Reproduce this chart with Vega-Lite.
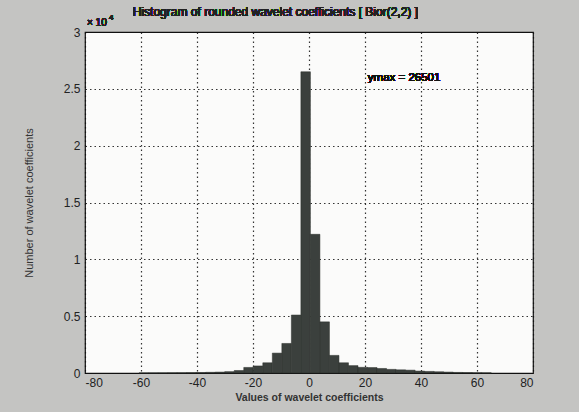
{
  "$schema": "https://vega.github.io/schema/vega-lite/v6.json",
  "width": 448,
  "height": 341,
  "autosize": "none",
  "padding": {"left": 85, "top": 32, "right": 46, "bottom": 39},
  "background": "#c4c4c2",
  "config": {
    "font": "Liberation Sans",
    "view": {"stroke": "#111111", "strokeWidth": 1.2, "fill": "#fbfbfa"}
  },
  "data": {
    "values": [
      {"bin_start": -60.7, "bin_end": -57.3, "count": 10},
      {"bin_start": -57.3, "bin_end": -53.9, "count": 12},
      {"bin_start": -53.9, "bin_end": -50.5, "count": 15},
      {"bin_start": -50.5, "bin_end": -47.1, "count": 20},
      {"bin_start": -47.1, "bin_end": -43.7, "count": 25},
      {"bin_start": -43.7, "bin_end": -40.3, "count": 35},
      {"bin_start": -40.3, "bin_end": -36.9, "count": 45},
      {"bin_start": -36.9, "bin_end": -33.5, "count": 60},
      {"bin_start": -33.5, "bin_end": -30.1, "count": 80},
      {"bin_start": -30.1, "bin_end": -26.7, "count": 120},
      {"bin_start": -26.7, "bin_end": -23.3, "count": 220},
      {"bin_start": -23.3, "bin_end": -19.9, "count": 490},
      {"bin_start": -19.9, "bin_end": -16.5, "count": 620},
      {"bin_start": -16.5, "bin_end": -13.1, "count": 900},
      {"bin_start": -13.1, "bin_end": -9.7, "count": 1750},
      {"bin_start": -9.7, "bin_end": -6.3, "count": 2600},
      {"bin_start": -6.3, "bin_end": -2.9, "count": 5100},
      {"bin_start": -2.9, "bin_end": 0.5, "count": 26501},
      {"bin_start": 0.5, "bin_end": 3.9, "count": 12200},
      {"bin_start": 3.9, "bin_end": 7.3, "count": 4500},
      {"bin_start": 7.3, "bin_end": 10.7, "count": 1550},
      {"bin_start": 10.7, "bin_end": 14.1, "count": 900},
      {"bin_start": 14.1, "bin_end": 17.5, "count": 650},
      {"bin_start": 17.5, "bin_end": 20.9, "count": 500},
      {"bin_start": 20.9, "bin_end": 24.3, "count": 480},
      {"bin_start": 24.3, "bin_end": 27.7, "count": 400},
      {"bin_start": 27.7, "bin_end": 31.1, "count": 320},
      {"bin_start": 31.1, "bin_end": 34.5, "count": 280},
      {"bin_start": 34.5, "bin_end": 37.9, "count": 250},
      {"bin_start": 37.9, "bin_end": 41.3, "count": 170},
      {"bin_start": 41.3, "bin_end": 44.7, "count": 140},
      {"bin_start": 44.7, "bin_end": 48.1, "count": 110},
      {"bin_start": 48.1, "bin_end": 51.5, "count": 80},
      {"bin_start": 51.5, "bin_end": 54.9, "count": 50},
      {"bin_start": 54.9, "bin_end": 58.3, "count": 40},
      {"bin_start": 58.3, "bin_end": 61.7, "count": 25},
      {"bin_start": 61.7, "bin_end": 65.1, "count": 15}
    ]
  },
  "layer": [
    {
      "mark": {"type": "rect", "fill": "#3b403d", "stroke": "#2a2e2b", "strokeWidth": 0.5},
      "encoding": {
        "x": {
          "field": "bin_start",
          "type": "quantitative",
          "scale": {"domain": [-80, 80], "nice": false, "zero": false},
          "axis": {
            "values": [-80, -60, -40, -20, 0, 20, 40, 60, 80],
            "labelExpr": "'' + datum.value",
            "title": "Values of wavelet coefficients",
            "titleFontSize": 10.5,
            "titleFontWeight": "bold",
            "titleColor": "#333333",
            "titlePadding": 4,
            "labelFontSize": 12,
            "labelColor": "#222222",
            "labelPadding": 4,
            "grid": true,
            "gridColor": "#111111",
            "gridDash": [1.5, 3],
            "gridOpacity": 0.85,
            "gridWidth": 1.2,
            "domain": false,
            "ticks": false
          }
        },
        "x2": {"field": "bin_end"},
        "y": {
          "field": "count",
          "type": "quantitative",
          "scale": {"domain": [0, 30000], "nice": false},
          "axis": {
            "values": [0, 5000, 10000, 15000, 20000, 25000, 30000],
            "labelExpr": "'' + (datum.value / 10000)",
            "title": "Number of wavelet coefficients",
            "titleFontSize": 11,
            "titleFontWeight": "normal",
            "titleColor": "#333333",
            "titlePadding": 29,
            "labelFontSize": 12,
            "labelColor": "#222222",
            "labelPadding": 5,
            "grid": true,
            "gridColor": "#111111",
            "gridDash": [1.5, 3],
            "gridOpacity": 0.85,
            "gridWidth": 1.2,
            "domain": false,
            "ticks": false
          }
        },
        "y2": {"datum": 0}
      }
    },
    {
      "mark": {"type": "text", "align": "left", "baseline": "middle", "fontSize": 11.5, "fill": "#111111", "strokeWidth": 0, "dy": 6},
      "encoding": {
        "x": {"datum": 21},
        "y": {"datum": 26501},
        "text": {"value": "ymax = 26501"}
      }
    },
    {
      "mark": {"type": "text", "align": "center", "baseline": "alphabetic", "fontSize": 12, "fill": "#222222", "strokeWidth": 0, "dy": -16},
      "encoding": {
        "x": {"datum": -12},
        "y": {"datum": 30000},
        "text": {"value": "Histogram of rounded wavelet coefficients [ Bior(2,2) ]"}
      }
    },
    {
      "mark": {"type": "text", "align": "left", "baseline": "alphabetic", "fontSize": 10, "fill": "#222222", "strokeWidth": 0, "dx": 2, "dy": -6},
      "encoding": {
        "x": {"datum": -80},
        "y": {"datum": 30000},
        "text": {"value": "× 10"}
      }
    },
    {
      "mark": {"type": "text", "align": "left", "baseline": "alphabetic", "fontSize": 8, "fill": "#222222", "strokeWidth": 0, "dx": 24, "dy": -12},
      "encoding": {
        "x": {"datum": -80},
        "y": {"datum": 30000},
        "text": {"value": "4"}
      }
    }
  ]
}
